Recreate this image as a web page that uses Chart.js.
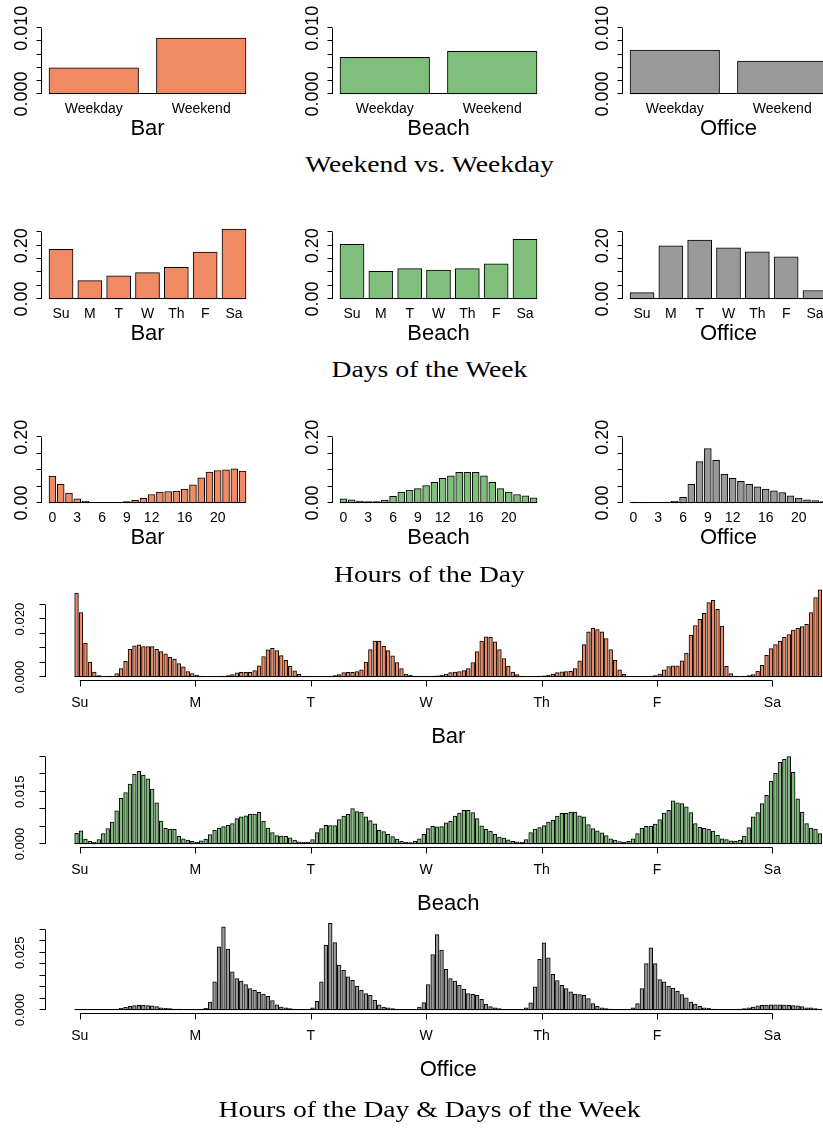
<!DOCTYPE html>
<html lang="en">
<head>
  <meta charset="UTF-8">
  <title>Bar, Beach, Office check-in densities</title>
  <script src="https://cdn.jsdelivr.net/npm/chart.js"></script>
  <style>
    body { margin: 0; background: #fff; }
    #page { position: relative; width: 823px; height: 1128px; overflow: hidden; background: #fff; }
    #page canvas { position: absolute; }
    .rowtitle {
      position: absolute; left: 0; width: 859px; text-align: center;
      font-family: "Liberation Serif", "Times New Roman", serif; font-size: 24px; line-height: 24px;
      transform-origin: 429.5px 0; transform: scaleX(1.15); color: #000; white-space: nowrap;
    }
  </style>
</head>
<body>
<div id="page"></div>

<script>
  // ---- data ----
  const places = ['Bar', 'Beach', 'Office'];
  const placeColors = ['#EF8A62', '#7FBF7B', '#999999'];

  const weekPartLabels = ['Weekday', 'Weekend'];
  const weekPartBar = [0.0040, 0.0085];
  const weekPartBeach = [0.0056, 0.0065];
  const weekPartOffice = [0.0067, 0.0050];

  const dayLabels = ['Su', 'M', 'T', 'W', 'Th', 'F', 'Sa'];
  const dayBar = [0.186, 0.069, 0.087, 0.099, 0.119, 0.176, 0.262];
  const dayBeach = [0.205, 0.104, 0.114, 0.108, 0.114, 0.132, 0.224];
  const dayOffice = [0.024, 0.199, 0.221, 0.192, 0.177, 0.158, 0.032];

  const hourTickLabels = ['0', '3', '6', '9', '12', '16', '20'];
  const hourBar = [0.082, 0.057, 0.030, 0.013, 0.005, 0.001, 0.0005, 0.0003, 0.0005, 0.004, 0.008, 0.014,
                   0.026, 0.033, 0.035, 0.036, 0.042, 0.055, 0.077, 0.094, 0.099, 0.101, 0.104, 0.097];
  const hourBeach = [0.013, 0.010, 0.006, 0.004, 0.004, 0.009, 0.020, 0.033, 0.039, 0.044, 0.053, 0.063,
                     0.075, 0.083, 0.093, 0.093, 0.093, 0.083, 0.063, 0.044, 0.033, 0.026, 0.022, 0.016];
  const hourOffice = [0.003, 0.002, 0.001, 0.001, 0.003, 0.006, 0.017, 0.057, 0.126, 0.166, 0.130, 0.088,
                      0.075, 0.066, 0.057, 0.049, 0.042, 0.037, 0.032, 0.022, 0.015, 0.010, 0.007, 0.004];

  const weekTickLabels = ['Su', 'M', 'T', 'W', 'Th', 'F', 'Sa'];
  // 168 hourly values, Sunday 0h .. Saturday 23h
  const weekHourBar = [
    0.0290, 0.0223, 0.0116, 0.0052, 0.0017, 0.0005, 0.0002, 0.0002, 0.0003, 0.0012, 0.0029, 0.0054,
    0.0096, 0.0108, 0.0111, 0.0105, 0.0105, 0.0105, 0.0096, 0.0088, 0.0080, 0.0068, 0.0062, 0.0046,
    0.0035, 0.0019, 0.0012, 0.0007, 0.0003, 0.0002, 0.0002, 0.0002, 0.0002, 0.0003, 0.0005, 0.0008,
    0.0014, 0.0016, 0.0016, 0.0016, 0.0022, 0.0039, 0.0071, 0.0094, 0.0099, 0.0091, 0.0074, 0.0058,
    0.0037, 0.0021, 0.0009, 0.0003, 0.0002, 0.0002, 0.0002, 0.0002, 0.0002, 0.0003, 0.0005, 0.0008,
    0.0015, 0.0016, 0.0016, 0.0019, 0.0025, 0.0052, 0.0095, 0.0124, 0.0124, 0.0106, 0.0091, 0.0073,
    0.0050, 0.0029, 0.0010, 0.0006, 0.0003, 0.0002, 0.0002, 0.0002, 0.0003, 0.0004, 0.0006, 0.0010,
    0.0015, 0.0017, 0.0019, 0.0022, 0.0029, 0.0050, 0.0088, 0.0124, 0.0139, 0.0137, 0.0122, 0.0095,
    0.0064, 0.0038, 0.0017, 0.0008, 0.0003, 0.0002, 0.0002, 0.0002, 0.0003, 0.0004, 0.0006, 0.0010,
    0.0015, 0.0018, 0.0019, 0.0020, 0.0029, 0.0056, 0.0112, 0.0156, 0.0168, 0.0164, 0.0156, 0.0133,
    0.0095, 0.0058, 0.0025, 0.0009, 0.0003, 0.0002, 0.0002, 0.0002, 0.0002, 0.0003, 0.0005, 0.0010,
    0.0025, 0.0036, 0.0039, 0.0039, 0.0056, 0.0083, 0.0145, 0.0178, 0.0199, 0.0220, 0.0257, 0.0265,
    0.0234, 0.0176, 0.0037, 0.0012, 0.0003, 0.0002, 0.0003, 0.0005, 0.0008, 0.0020, 0.0040, 0.0075,
    0.0098, 0.0112, 0.0124, 0.0137, 0.0147, 0.0162, 0.0168, 0.0174, 0.0182, 0.0223, 0.0275, 0.0301
  ];
  const weekHourBeach = [
    0.0031, 0.0038, 0.0014, 0.0008, 0.0005, 0.0013, 0.0030, 0.0044, 0.0063, 0.0095, 0.0131, 0.0148,
    0.0172, 0.0200, 0.0209, 0.0198, 0.0187, 0.0158, 0.0118, 0.0066, 0.0045, 0.0043, 0.0042, 0.0022,
    0.0015, 0.0011, 0.0008, 0.0005, 0.0009, 0.0014, 0.0027, 0.0039, 0.0046, 0.0050, 0.0054, 0.0059,
    0.0073, 0.0078, 0.0081, 0.0086, 0.0086, 0.0091, 0.0066, 0.0046, 0.0033, 0.0024, 0.0023, 0.0022,
    0.0018, 0.0011, 0.0006, 0.0005, 0.0005, 0.0013, 0.0033, 0.0044, 0.0054, 0.0053, 0.0053, 0.0070,
    0.0080, 0.0085, 0.0102, 0.0093, 0.0091, 0.0078, 0.0067, 0.0058, 0.0039, 0.0036, 0.0028, 0.0021,
    0.0014, 0.0008, 0.0005, 0.0004, 0.0008, 0.0015, 0.0028, 0.0044, 0.0051, 0.0049, 0.0050, 0.0061,
    0.0065, 0.0080, 0.0089, 0.0097, 0.0097, 0.0090, 0.0073, 0.0052, 0.0042, 0.0037, 0.0028, 0.0020,
    0.0017, 0.0012, 0.0008, 0.0006, 0.0005, 0.0013, 0.0033, 0.0043, 0.0047, 0.0053, 0.0063, 0.0068,
    0.0080, 0.0088, 0.0088, 0.0092, 0.0092, 0.0081, 0.0078, 0.0056, 0.0044, 0.0038, 0.0032, 0.0024,
    0.0015, 0.0011, 0.0007, 0.0005, 0.0008, 0.0015, 0.0030, 0.0046, 0.0051, 0.0051, 0.0057, 0.0070,
    0.0089, 0.0097, 0.0124, 0.0118, 0.0116, 0.0107, 0.0090, 0.0059, 0.0048, 0.0045, 0.0043, 0.0037,
    0.0025, 0.0015, 0.0013, 0.0009, 0.0008, 0.0011, 0.0023, 0.0047, 0.0078, 0.0090, 0.0116, 0.0140,
    0.0181, 0.0203, 0.0235, 0.0243, 0.0251, 0.0206, 0.0130, 0.0092, 0.0059, 0.0046, 0.0043, 0.0030
  ];
  const weekHourOffice = [
    0.0002, 0.0002, 0.0002, 0.0002, 0.0002, 0.0002, 0.0002, 0.0002, 0.0002, 0.0004, 0.0007, 0.0012,
    0.0016, 0.0019, 0.0020, 0.0020, 0.0019, 0.0018, 0.0015, 0.0010, 0.0007, 0.0006, 0.0004, 0.0004,
    0.0003, 0.0002, 0.0002, 0.0002, 0.0002, 0.0007, 0.0035, 0.0123, 0.0276, 0.0364, 0.0266, 0.0167,
    0.0137, 0.0126, 0.0111, 0.0094, 0.0086, 0.0077, 0.0070, 0.0060, 0.0041, 0.0023, 0.0013, 0.0009,
    0.0006, 0.0004, 0.0003, 0.0003, 0.0003, 0.0009, 0.0038, 0.0123, 0.0284, 0.0379, 0.0295, 0.0196,
    0.0174, 0.0145, 0.0130, 0.0105, 0.0086, 0.0072, 0.0064, 0.0042, 0.0023, 0.0013, 0.0009, 0.0006,
    0.0004, 0.0003, 0.0003, 0.0003, 0.0003, 0.0013, 0.0032, 0.0111, 0.0243, 0.0330, 0.0262, 0.0178,
    0.0137, 0.0127, 0.0108, 0.0091, 0.0072, 0.0069, 0.0064, 0.0047, 0.0026, 0.0015, 0.0009, 0.0006,
    0.0003, 0.0003, 0.0003, 0.0003, 0.0003, 0.0009, 0.0031, 0.0101, 0.0222, 0.0294, 0.0228, 0.0156,
    0.0129, 0.0108, 0.0094, 0.0079, 0.0070, 0.0067, 0.0064, 0.0050, 0.0028, 0.0016, 0.0009, 0.0006,
    0.0004, 0.0003, 0.0003, 0.0003, 0.0003, 0.0009, 0.0028, 0.0094, 0.0203, 0.0272, 0.0203, 0.0133,
    0.0123, 0.0105, 0.0096, 0.0082, 0.0067, 0.0053, 0.0035, 0.0026, 0.0016, 0.0010, 0.0007, 0.0004,
    0.0003, 0.0003, 0.0003, 0.0003, 0.0003, 0.0004, 0.0006, 0.0009, 0.0013, 0.0018, 0.0020, 0.0022,
    0.0023, 0.0023, 0.0023, 0.0022, 0.0020, 0.0019, 0.0018, 0.0015, 0.0010, 0.0009, 0.0006, 0.0004
  ];

  // y-axis ticks and the labels R kept after dropping overlapping ones
  const yTicksWeekPart = [0, 0.002, 0.004, 0.006, 0.008, 0.010];
  const yLabelsWeekPart = ['0.000', '', '', '', '', '0.010'];
  const yTicksDays = [0, 0.05, 0.10, 0.15, 0.20, 0.25];
  const yLabelsDays = ['0.00', '', '', '', '0.20', ''];
  const yTicksHours = [0, 0.05, 0.10, 0.15, 0.20];
  const yLabelsHours = ['0.00', '', '', '', '0.20'];
  const yTicksWeekBar = [0, 0.005, 0.010, 0.015, 0.020, 0.025];
  const yLabelsWeekBar = ['0.000', '', '', '', '0.020', ''];
  const yTicksWeekBeach = [0, 0.005, 0.010, 0.015, 0.020, 0.025];
  const yLabelsWeekBeach = ['0.000', '', '', '0.015', '', ''];
  const yTicksWeekOffice = [0, 0.005, 0.010, 0.015, 0.020, 0.025, 0.030, 0.035];
  const yLabelsWeekOffice = ['0.000', '', '', '', '', '0.025', '', ''];

  // ---- drawing ----
  const page = document.getElementById('page');
  const SANS = '"Liberation Sans", Arial, Helvetica, sans-serif';

  // base-graphics style axes, drawn through the chart's scales
  function rAxes(cfg, n) {
    return {
      id: 'rAxes',
      afterDatasetsDraw(chart) {
        const { ctx, chartArea, scales: { x, y } } = chart;
        const y0 = Math.round(y.getPixelForValue(0));
        const ax = Math.round(chartArea.left) + 0.5;
        const top = cfg.yTicks[cfg.yTicks.length - 1];
        ctx.save();
        ctx.strokeStyle = '#000';
        ctx.fillStyle = '#000';
        ctx.lineWidth = 1;

        // bar bottoms (tiny bars collapse into this line)
        ctx.beginPath();
        ctx.moveTo(x.getPixelForValue(-5 / 12), y0 - 0.5);
        ctx.lineTo(x.getPixelForValue(n - 7 / 12), y0 - 0.5);
        // y axis line and ticks
        ctx.moveTo(ax, y0);
        ctx.lineTo(ax, y.getPixelForValue(top));
        cfg.yTicks.forEach(v => {
          const py = Math.round(y.getPixelForValue(v)) - 0.5;
          ctx.moveTo(ax, py);
          ctx.lineTo(ax - cfg.tick, py);
        });
        ctx.stroke();

        // rotated y labels
        ctx.font = cfg.yFont + 'px ' + SANS;
        ctx.textAlign = 'center';
        ctx.textBaseline = 'middle';
        cfg.yTicks.forEach((v, i) => {
          if (!cfg.yLabels[i]) return;
          ctx.save();
          ctx.translate(ax - cfg.yLabelDx, y.getPixelForValue(v));
          ctx.rotate(-Math.PI / 2);
          ctx.fillText(cfg.yLabels[i], 0, 0);
          ctx.restore();
        });

        // x axis with tick marks (wide panels only)
        if (cfg.xTicks) {
          const ly = y0 + 3.5;
          ctx.beginPath();
          ctx.moveTo(x.getPixelForValue(cfg.xTicks[0]), ly);
          ctx.lineTo(x.getPixelForValue(cfg.xTicks[cfg.xTicks.length - 1]), ly);
          cfg.xTicks.forEach(t => {
            const px = Math.round(x.getPixelForValue(t)) + 0.5;
            ctx.moveTo(px, ly);
            ctx.lineTo(px, ly + cfg.tick);
          });
          ctx.stroke();
        }

        // category labels
        ctx.font = cfg.xFont + 'px ' + SANS;
        cfg.xLabels.forEach(l => {
          ctx.fillText(l.text, x.getPixelForValue(l.at), y0 + cfg.xLabelDy);
        });

        // panel title
        ctx.font = '22px ' + SANS;
        ctx.fillText(cfg.title, (chartArea.left + chartArea.right) / 2, y0 + cfg.titleDy);
        ctx.restore();
      }
    };
  }

  function addPanel(cfg) {
    const cv = document.createElement('canvas');
    cv.width = cfg.w;
    cv.height = cfg.h;
    cv.style.left = cfg.left + 'px';
    cv.style.top = cfg.top + 'px';
    page.appendChild(cv);

    const n = cfg.values.length;
    const span = n - 1 / 6;               // first bar left edge to last bar right edge, in bar pitches
    const pitch = (cfg.barsRight - cfg.barsLeft) / span;
    const ext = 0.04 * span;              // R pads the x range by 4% on each side

    new Chart(cv, {
      type: 'bar',
      data: {
        datasets: [{
          data: cfg.values.map((v, i) => ({ x: i, y: v })),
          backgroundColor: cfg.color,
          borderColor: '#000',
          borderWidth: 1,
          borderSkipped: false,
          barThickness: pitch / 1.2,      // bar width 1, gap 0.2
          clip: false
        }]
      },
      options: {
        responsive: false,
        animation: false,
        events: [],
        layout: {
          autoPadding: false,
          padding: {
            left: cfg.barsLeft - ext * pitch - cfg.left,
            right: cfg.left + cfg.w - (cfg.barsRight + ext * pitch),
            top: cfg.topPx - cfg.top,
            bottom: cfg.top + cfg.h - cfg.zeroPx
          }
        },
        plugins: { legend: { display: false }, tooltip: { enabled: false } },
        scales: {
          x: {
            type: 'linear', offset: false, bounds: 'data', grace: 0,
            min: -5 / 12 - ext, max: n - 7 / 12 + ext,
            display: false, grid: { offset: false }
          },
          y: { type: 'linear', bounds: 'data', min: 0, max: cfg.yTicks[cfg.yTicks.length - 1], display: false }
        }
      },
      plugins: [rAxes(cfg, n)]
    });
  }

  const colLeft = [0, 291, 581];

  const rows = [
    { series: [weekPartBar, weekPartBeach, weekPartOffice], labels: weekPartLabels.map((t, i) => ({ at: i, text: t })),
      yTicks: yTicksWeekPart, yLabels: yLabelsWeekPart, top: 0, h: 150, topPx: 28.3, zeroPx: 94 },
    { series: [dayBar, dayBeach, dayOffice], labels: dayLabels.map((t, i) => ({ at: i, text: t })),
      yTicks: yTicksDays, yLabels: yLabelsDays, top: 220, h: 135, topPx: 232.3, zeroPx: 299 },
    { series: [hourBar, hourBeach, hourOffice], labels: hourTickLabels.map(t => ({ at: Number(t), text: t })),
      yTicks: yTicksHours, yLabels: yLabelsHours, top: 415, h: 140, topPx: 437.3, zeroPx: 503 }
  ];

  rows.forEach(row => {
    places.forEach((place, c) => {
      addPanel({
        left: colLeft[c], top: row.top, w: 291, h: row.h,
        barsLeft: colLeft[c] + 49, barsRight: colLeft[c] + 246,
        topPx: row.topPx, zeroPx: row.zeroPx,
        values: row.series[c], color: placeColors[c],
        yTicks: row.yTicks, yLabels: row.yLabels,
        xLabels: row.labels, title: place,
        tick: 5, yFont: 18, yLabelDx: 19, xFont: 14, xLabelDy: 15, titleDy: 35
      });
    });
  });

  // day ticks as placed in the original figure (about 25.9 bars apart, not 24)
  const weekTicks = weekTickLabels.map((t, k) => 0.74 + 25.93 * k);

  const wide = [
    { values: weekHourBar, yTicks: yTicksWeekBar, yLabels: yLabelsWeekBar, top: 580, topPx: 604.7, zeroPx: 677 },
    { values: weekHourBeach, yTicks: yTicksWeekBeach, yLabels: yLabelsWeekBeach, top: 748, topPx: 757, zeroPx: 844 },
    { values: weekHourOffice, yTicks: yTicksWeekOffice, yLabels: yLabelsWeekOffice, top: 913, topPx: 930, zeroPx: 1010 }
  ];

  wide.forEach((p, c) => {
    addPanel({
      left: 0, top: p.top, w: 880, h: 172,
      barsLeft: 74.7, barsRight: 821.8,
      topPx: p.topPx, zeroPx: p.zeroPx,
      values: p.values, color: placeColors[c],
      yTicks: p.yTicks, yLabels: p.yLabels,
      xTicks: weekTicks,
      xLabels: weekTickLabels.map((t, k) => ({ at: weekTicks[k], text: t })),
      title: places[c],
      tick: 6, yFont: 13, yLabelDx: 25, xFont: 14, xLabelDy: 26.5, titleDy: 59.5
    });
  });

  // figure row titles
  [['Weekend vs. Weekday', 151.5], ['Days of the Week', 357], ['Hours of the Day', 562],
   ['Hours of the Day & Days of the Week', 1097]].forEach(([text, top]) => {
    const d = document.createElement('div');
    d.className = 'rowtitle';
    d.style.top = top + 'px';
    d.textContent = text;
    page.appendChild(d);
  });
</script>
</body>
</html>
